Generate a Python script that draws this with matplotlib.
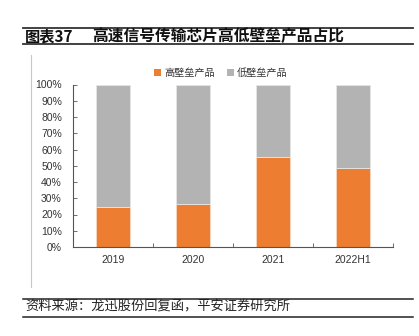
import matplotlib
matplotlib.use("Agg")
import matplotlib.pyplot as plt
from matplotlib.lines import Line2D
from matplotlib.patches import Patch
import numpy as np

plt.rcParams['font.family'] = ['Noto Sans CJK SC', 'DejaVu Sans']

categories = ["2019", "2020", "2021", "2022H1"]
high_barrier = [24.5, 26.5, 55.2, 48.8]
low_barrier = [100 - v for v in high_barrier]
yticks = [0, 10, 20, 30, 40, 50, 60, 70, 80, 90, 100]
ytick_labels = [f"{t}%" for t in yticks]
series_names = ["高壁垒产品", "低壁垒产品"]
title_num = "图表37"
title = "高速信号传输芯片高低壁垒产品占比"
source = "资料来源：龙迅股份回复函，平安证券研究所"

ORANGE = "#ED7D31"
GRAY = "#B3B3B3"

W, H = 419, 336
fig = plt.figure(figsize=(W / 100, H / 100), dpi=100)

def fx(px):
    return px / W

def fy(py):
    return 1 - py / H

# header lines and title
fig.add_artist(Line2D([fx(23), fx(413)], [fy(28), fy(28)], color="#333333", lw=1.3))
fig.add_artist(Line2D([fx(23), fx(413)], [fy(43.5), fy(43.5)], color="#333333", lw=1.3))
fig.text(fx(25), fy(36), title_num, fontsize=11, fontweight="bold", va="center", ha="left", color="#111111")
fig.text(fx(92), fy(36), title, fontsize=11.3, fontweight="bold", va="center", ha="left", color="#111111")

# footer lines and source
fig.add_artist(Line2D([fx(23), fx(413)], [fy(298.5), fy(298.5)], color="#222222", lw=1.1))
fig.add_artist(Line2D([fx(23), fx(413)], [fy(316.5), fy(316.5)], color="#222222", lw=1.1))
fig.text(fx(25), fy(307.5), source, fontsize=9.5, fontstyle="italic", va="center", ha="left", color="#222222")

# vertical gray line
fig.add_artist(Line2D([fx(30.5), fx(30.5)], [fy(55), fy(287)], color="#C8C8C8", lw=0.8))

ax = fig.add_axes([fx(73), fy(247), fx(393) - fx(73), fy(84.5) - fy(247)])
x = np.arange(len(categories))
bw = 0.43
ax.bar(x, high_barrier, width=bw, color=ORANGE, edgecolor="#F7D9C4", linewidth=0.6, label=series_names[0])
ax.bar(x, low_barrier, width=bw, bottom=high_barrier, color=GRAY, edgecolor="#E6E6E6", linewidth=0.6, label=series_names[1])

ax.set_xlim(-0.5, len(categories) - 0.5)
ax.set_ylim(0, 100)
ax.set_yticks(yticks)
ax.set_yticklabels(ytick_labels, fontsize=7.5, color="#333333", family=["Liberation Sans", "DejaVu Sans"])
ax.set_xticks(x)
ax.set_xticklabels(categories, fontsize=7.5, color="#333333", family=["Liberation Sans", "DejaVu Sans"])
ax.tick_params(axis="x", length=0, pad=6)
ax.tick_params(axis="y", direction="in", length=3, color="#555555", pad=8, width=0.6)
ax.set_xticks(np.arange(len(categories)) + 0.5, minor=True)
ax.tick_params(axis="x", which="minor", direction="in", length=3, color="#555555", width=0.6)
for s in ["top", "right"]:
    ax.spines[s].set_visible(False)
for s in ["left", "bottom"]:
    ax.spines[s].set_color("#555555")
    ax.spines[s].set_linewidth(0.8)

handles = [Patch(facecolor=ORANGE, edgecolor="none"), Patch(facecolor=GRAY, edgecolor="none")]
fig.legend(handles, series_names, loc="center left", bbox_to_anchor=(fx(145), fy(73)),
           ncol=2, frameon=False, fontsize=7.3, handlelength=0.7, handleheight=0.7,
           handletextpad=0.3, columnspacing=1.2, labelcolor="#333333")

fig.savefig("out.png", dpi=100)
